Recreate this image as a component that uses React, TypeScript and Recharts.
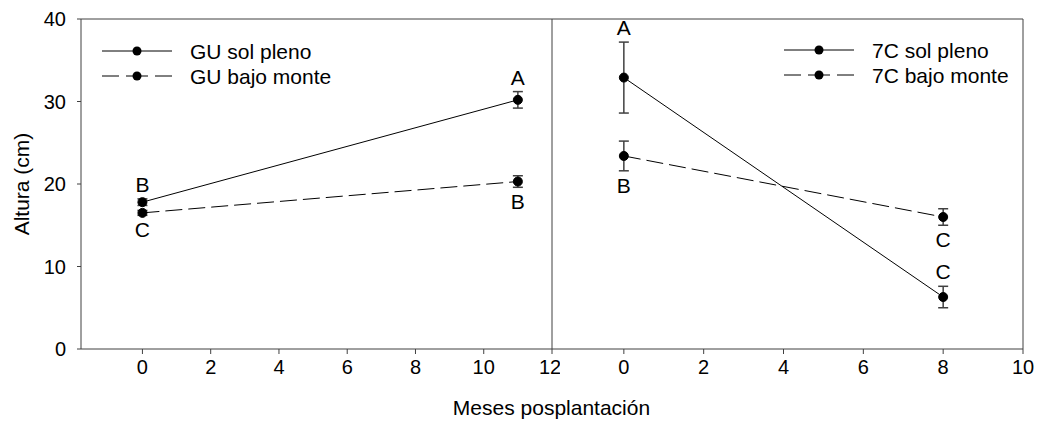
import { LineChart, Line, XAxis, YAxis, ErrorBar, ReferenceLine, ReferenceDot, Legend } from 'recharts';

// GU (izquierda)
const guMeses = [0, 11];
const guSolPleno = [17.8, 30.2];
const guSolPlenoErr = [0.4, 1.0];
const guSolPlenoLetras = ['B', 'A'];
const guBajoMonte = [16.5, 20.3];
const guBajoMonteErr = [0.3, 0.7];
const guBajoMonteLetras = ['C', 'B'];

// 7C (derecha)
const c7Meses = [0, 8];
const c7SolPleno = [32.9, 6.3];
const c7SolPlenoErr = [4.3, 1.3];
const c7SolPlenoLetras = ['A', 'C'];
const c7BajoMonte = [23.4, 16.0];
const c7BajoMonteErr = [1.8, 1.0];
const c7BajoMonteLetras = ['B', 'C'];

const guTicks = [0, 2, 4, 6, 8, 10, 12];
const c7Ticks = [0, 2, 4, 6, 8, 10];
const yTicks = [0, 10, 20, 30, 40];

const FONT = '"Liberation Sans", Arial, sans-serif';
const AXIS = '#404040';
const DASH = '17 6';

const buildRows = (meses: number[], sol: number[], solErr: number[], bajo: number[], bajoErr: number[]) =>
  meses.map((m, i) => ({ mes: m, sol: sol[i], solErr: solErr[i], bajo: bajo[i], bajoErr: bajoErr[i] }));

const guData = buildRows(guMeses, guSolPleno, guSolPlenoErr, guBajoMonte, guBajoMonteErr);
const c7Data = buildRows(c7Meses, c7SolPleno, c7SolPlenoErr, c7BajoMonte, c7BajoMonteErr);

const LegendBox = ({ labels }: { labels: string[] }) => (
  <svg width={280} height={50} style={{ display: 'block' }}>
    {labels.map((lab, i) => (
      <g key={lab} transform={`translate(0, ${12 + i * 25})`}>
        {i === 1 ? (
          <>
            <line x1={0} x2={17} y1={0} y2={0} stroke="#000" />
            <line x1={24} x2={46} y1={0} y2={0} stroke="#000" />
            <line x1={53} x2={70} y1={0} y2={0} stroke="#000" />
          </>
        ) : (
          <line x1={0} x2={70} y1={0} y2={0} stroke="#000" />
        )}
        <circle cx={35} cy={0} r={4.5} fill="#000" />
        <text x={88} y={7.5} fontSize={21} fontFamily={FONT} fill="#000">{lab}</text>
      </g>
    ))}
  </svg>
);

const letterDots = (meses: number[], vals: number[], errs: number[], letras: string[], above: boolean) =>
  meses.map((m, i) => (
    <ReferenceDot
      key={`${letras[i]}-${m}-${above}`}
      x={m}
      y={above ? vals[i] + errs[i] : vals[i] - errs[i]}
      r={1}
      fill="none"
      stroke="none"
      label={{ value: letras[i], position: above ? 'top' : 'bottom', offset: 6, fontSize: 21, fill: '#000', fontFamily: FONT }}
    />
  ));

const tickStyle = { fill: '#000', fontSize: 20, fontFamily: FONT };

export default function App() {
  return (
    <div style={{ position: 'absolute', left: 0, top: 0, width: 1037, height: 424, background: '#fff', fontFamily: FONT }}>
      <div style={{ position: 'absolute', left: 0, top: 0 }}>
        <LineChart width={560} height={424} data={guData} margin={{ top: 19, right: 8, bottom: 0, left: 0 }}>
          <XAxis
            type="number"
            dataKey="mes"
            domain={[-1.8, 12]}
            ticks={guTicks}
            allowDataOverflow
            tick={tickStyle}
            tickSize={5}
            tickMargin={6}
            stroke={AXIS}
            height={75}
          />
          <YAxis
            type="number"
            domain={[0, 40]}
            ticks={yTicks}
            tick={tickStyle}
            tickSize={4}
            tickMargin={11}
            stroke={AXIS}
            width={81}
            label={{ value: 'Altura (cm)', angle: -90, position: 'insideLeft', offset: 22, fontSize: 21, fill: '#000', style: { textAnchor: 'middle' } }}
          />
          <ReferenceLine y={40} stroke={AXIS} />
          <ReferenceLine x={12} stroke={AXIS} />
          <Legend verticalAlign="middle" align="center" content={() => <LegendBox labels={['GU sol pleno', 'GU bajo monte']} />} wrapperStyle={{ left: 102, top: 39, width: 280, height: 50 }} />
          <Line dataKey="sol" stroke="#000" strokeWidth={1} dot={{ r: 4.5, fill: '#000', stroke: '#000' }} isAnimationActive={false}>
            <ErrorBar dataKey="solErr" direction="y" width={5} stroke={AXIS} isAnimationActive={false} />
          </Line>
          <Line dataKey="bajo" stroke="#000" strokeWidth={1} strokeDasharray={DASH} dot={{ r: 4.5, fill: '#000', stroke: '#000', strokeDasharray: '' }} isAnimationActive={false}>
            <ErrorBar dataKey="bajoErr" direction="y" width={5} stroke={AXIS} isAnimationActive={false} />
          </Line>
          {letterDots(guMeses, guSolPleno, guSolPlenoErr, guSolPlenoLetras, true)}
          {letterDots(guMeses, guBajoMonte, guBajoMonteErr, guBajoMonteLetras, false)}
        </LineChart>
      </div>
      <div style={{ position: 'absolute', left: 0, top: 0 }}>
        <LineChart width={1037} height={424} data={c7Data} margin={{ top: 19, right: 14, bottom: 0, left: 552 }}>
          <XAxis
            type="number"
            dataKey="mes"
            domain={[-1.8, 10]}
            ticks={c7Ticks}
            allowDataOverflow
            tick={tickStyle}
            tickSize={5}
            tickMargin={6}
            stroke={AXIS}
            height={75}
          />
          <YAxis type="number" domain={[0, 40]} hide width={0} />
          <ReferenceLine y={40} stroke={AXIS} />
          <ReferenceLine x={10} stroke={AXIS} />
          <Legend verticalAlign="middle" align="center" content={() => <LegendBox labels={['7C sol pleno', '7C bajo monte']} />} wrapperStyle={{ left: 784, top: 38, width: 280, height: 50 }} />
          <Line dataKey="sol" stroke="#000" strokeWidth={1} dot={{ r: 4.5, fill: '#000', stroke: '#000' }} isAnimationActive={false}>
            <ErrorBar dataKey="solErr" direction="y" width={5} stroke={AXIS} isAnimationActive={false} />
          </Line>
          <Line dataKey="bajo" stroke="#000" strokeWidth={1} strokeDasharray={DASH} dot={{ r: 4.5, fill: '#000', stroke: '#000', strokeDasharray: '' }} isAnimationActive={false}>
            <ErrorBar dataKey="bajoErr" direction="y" width={5} stroke={AXIS} isAnimationActive={false} />
          </Line>
          {letterDots(c7Meses, c7SolPleno, c7SolPlenoErr, c7SolPlenoLetras, true)}
          {letterDots(c7Meses, c7BajoMonte, c7BajoMonteErr, c7BajoMonteLetras, false)}
        </LineChart>
      </div>
      <div style={{ position: 'absolute', left: 0, width: 1103, top: 397, textAlign: 'center', fontSize: 21, color: '#000', lineHeight: '21px' }}>
        Meses posplantación
      </div>
    </div>
  );
}
